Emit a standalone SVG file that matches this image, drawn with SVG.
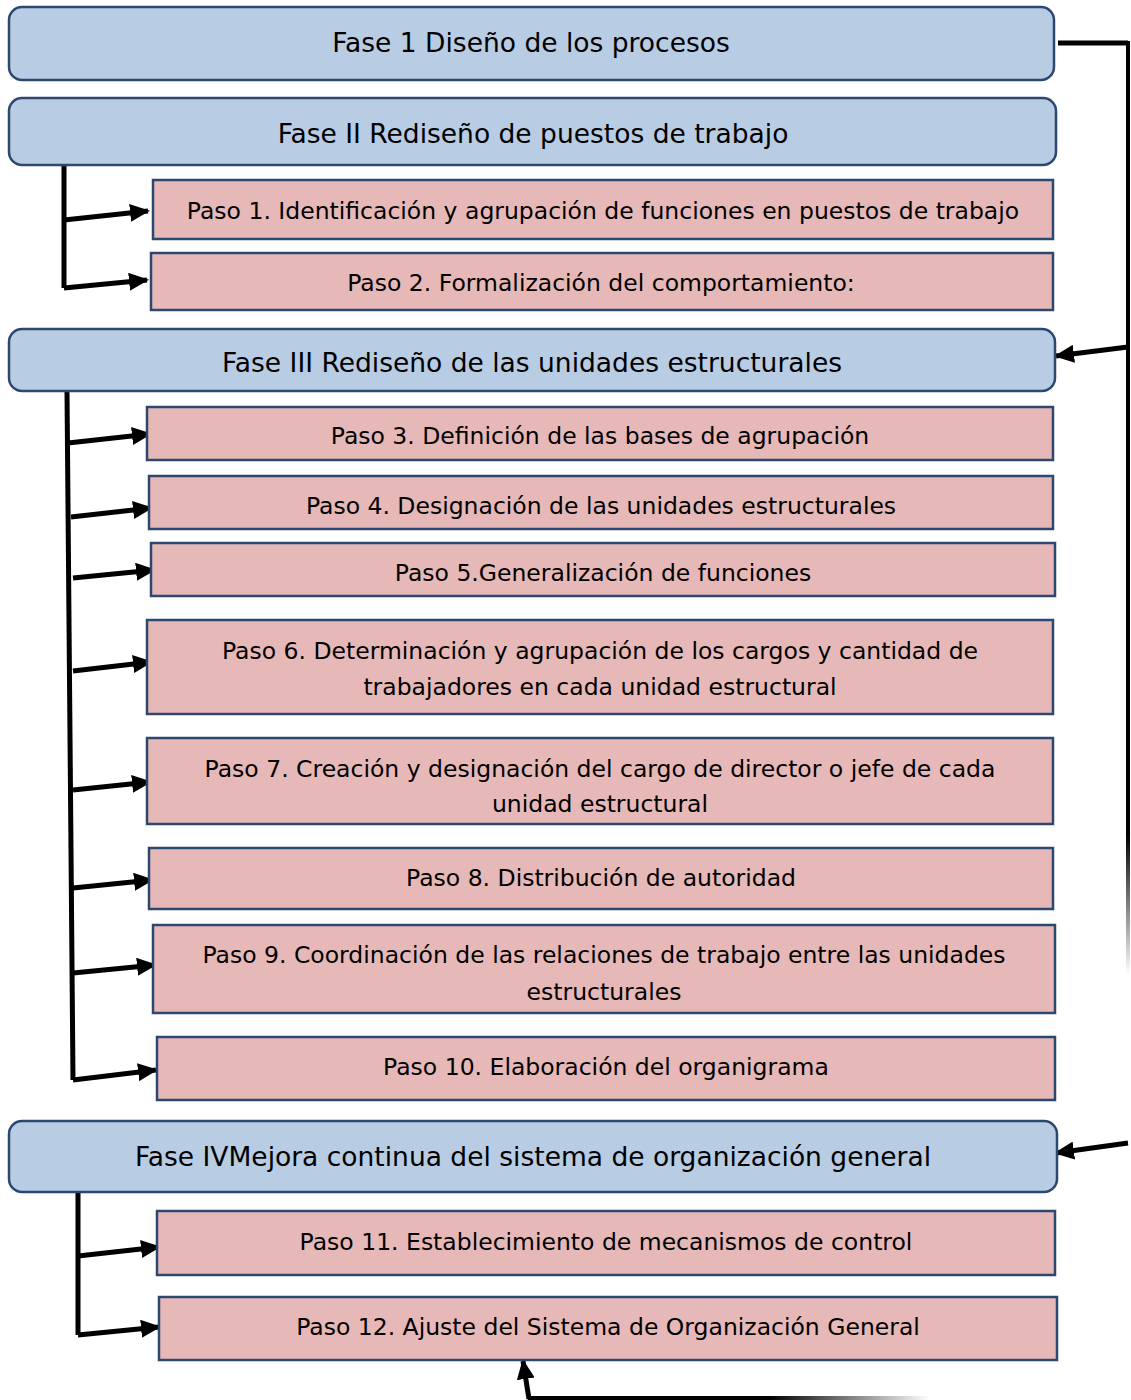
<svg xmlns="http://www.w3.org/2000/svg" width="1131" height="1400" viewBox="0 0 1131 1400">
<style>
.fase{fill:#b8cce4;stroke:#2c4770;stroke-width:2.5}
.paso{fill:#e6b8b7;stroke:#2c4770;stroke-width:2.5}
text{font-family:"DejaVu Sans","Liberation Sans",sans-serif;fill:#000;text-anchor:middle;dominant-baseline:central}
.ft{font-size:26.5px}
.pt{font-size:23.5px}
.ln{fill:none;stroke:#000;stroke-width:5}
</style>
<defs>
<marker id="ah" markerUnits="userSpaceOnUse" markerWidth="20" markerHeight="18" refX="18" refY="9" orient="auto">
<path d="M0,0 L20,9 L0,18 Z" fill="#000"/>
</marker>
<linearGradient id="fadeV" x1="0" y1="43" x2="0" y2="975" gradientUnits="userSpaceOnUse">
<stop offset="0" stop-color="#000"/>
<stop offset="0.85" stop-color="#000"/>
<stop offset="1" stop-color="#000" stop-opacity="0"/>
</linearGradient>
<linearGradient id="fadeH" x1="528" y1="0" x2="930" y2="0" gradientUnits="userSpaceOnUse">
<stop offset="0" stop-color="#000"/>
<stop offset="0.6" stop-color="#000"/>
<stop offset="1" stop-color="#000" stop-opacity="0"/>
</linearGradient>
</defs>

<g id="connectors">
<path class="ln" d="M64,165 L64,288"/>
<path class="ln" d="M64,220 L148,211" marker-end="url(#ah)"/>
<path class="ln" d="M64,288 L147,280" marker-end="url(#ah)"/>
<path class="ln" d="M67,391 L73,1080"/>
<path class="ln" d="M68,443 L150,434" marker-end="url(#ah)"/>
<path class="ln" d="M71,517 L151,508" marker-end="url(#ah)"/>
<path class="ln" d="M73,578 L154,570" marker-end="url(#ah)"/>
<path class="ln" d="M73,671 L151,662" marker-end="url(#ah)"/>
<path class="ln" d="M73,790 L150,782" marker-end="url(#ah)"/>
<path class="ln" d="M73,888 L152,880" marker-end="url(#ah)"/>
<path class="ln" d="M73,973 L155,965" marker-end="url(#ah)"/>
<path class="ln" d="M73,1080 L156,1070" marker-end="url(#ah)"/>
<path class="ln" d="M78,1192 L78,1335"/>
<path class="ln" d="M78,1256 L159,1247" marker-end="url(#ah)"/>
<path class="ln" d="M78,1335 L159,1327" marker-end="url(#ah)"/>
<path class="ln" d="M1058,43 L1128,43"/>
<path d="M1128,41 L1128,975" fill="none" stroke="url(#fadeV)" stroke-width="4"/>
<path class="ln" d="M1128,347 L1056,356" marker-end="url(#ah)"/>
<path class="ln" d="M1128,1143 L1056,1153" marker-end="url(#ah)"/>
<path d="M528,1398 L930,1398" fill="none" stroke="url(#fadeH)" stroke-width="4"/>
<path class="ln" d="M529,1399 L523,1361" marker-end="url(#ah)"/>
</g>

<g id="fase1"><rect class="fase" x="9" y="7" width="1045" height="73" rx="13"/><text class="ft" x="531" y="42">Fase 1 Diseño de los procesos</text></g>
<g id="fase2"><rect class="fase" x="9" y="98" width="1047" height="67" rx="13"/><text class="ft" x="533" y="133">Fase II Rediseño de puestos de trabajo</text></g>
<g id="paso1"><rect class="paso" x="153" y="180" width="900" height="59"/><text class="pt" x="603" y="211">Paso 1. Identificación y agrupación de funciones en puestos de trabajo</text></g>
<g id="paso2"><rect class="paso" x="151" y="253" width="902" height="57"/><text class="pt" x="601" y="283">Paso 2. Formalización del comportamiento:</text></g>
<g id="fase3"><rect class="fase" x="9" y="329" width="1046" height="62" rx="13"/><text class="ft" x="532" y="362">Fase III Rediseño de las unidades estructurales</text></g>
<g id="paso3"><rect class="paso" x="147" y="407" width="906" height="53"/><text class="pt" x="600" y="436">Paso 3. Definición de las bases de agrupación</text></g>
<g id="paso4"><rect class="paso" x="149" y="476" width="904" height="53"/><text class="pt" x="601" y="506">Paso 4. Designación de las unidades estructurales</text></g>
<g id="paso5"><rect class="paso" x="151" y="543" width="904" height="53"/><text class="pt" x="603" y="573">Paso 5.Generalización de funciones</text></g>
<g id="paso6"><rect class="paso" x="147" y="620" width="906" height="94"/><text class="pt" x="600" y="651">Paso 6. Determinación y agrupación de los cargos y cantidad de</text><text class="pt" x="600" y="687">trabajadores en cada unidad estructural</text></g>
<g id="paso7"><rect class="paso" x="147" y="738" width="906" height="86"/><text class="pt" x="600" y="769">Paso 7. Creación y designación del cargo de director o jefe de cada</text><text class="pt" x="600" y="804">unidad estructural</text></g>
<g id="paso8"><rect class="paso" x="149" y="848" width="904" height="61"/><text class="pt" x="601" y="878">Paso 8. Distribución de autoridad</text></g>
<g id="paso9"><rect class="paso" x="153" y="925" width="902" height="88"/><text class="pt" x="604" y="955">Paso 9. Coordinación de las relaciones de trabajo entre las unidades</text><text class="pt" x="604" y="992">estructurales</text></g>
<g id="paso10"><rect class="paso" x="157" y="1037" width="898" height="63"/><text class="pt" x="606" y="1067">Paso 10. Elaboración del organigrama</text></g>
<g id="fase4"><rect class="fase" x="9" y="1121" width="1048" height="71" rx="13"/><text class="ft" x="533" y="1156">Fase IVMejora continua del sistema de organización general</text></g>
<g id="paso11"><rect class="paso" x="157" y="1211" width="898" height="64"/><text class="pt" x="606" y="1242">Paso 11. Establecimiento de mecanismos de control</text></g>
<g id="paso12"><rect class="paso" x="159" y="1297" width="898" height="63"/><text class="pt" x="608" y="1327">Paso 12. Ajuste del Sistema de Organización General</text></g>
</svg>
